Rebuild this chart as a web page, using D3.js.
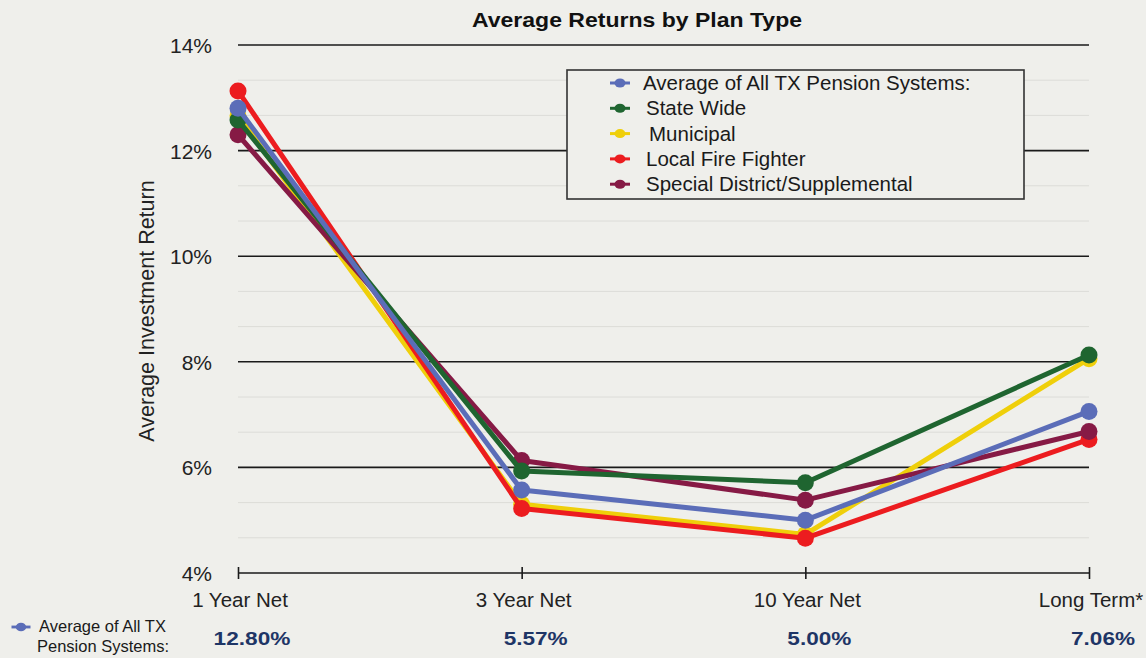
<!DOCTYPE html>
<html>
<head>
<meta charset="utf-8">
<script src="https://cdn.jsdelivr.net/npm/d3@7"></script>
<style>
  html, body { margin: 0; padding: 0; background: #efefeb; }
  svg { display: block; font-family: "Liberation Sans", Arial, Helvetica, sans-serif; }
</style>
</head>
<body>
<svg id="chart" width="1146" height="658"></svg>
<script>
// Return periods shown along the x axis
const periods = ["1 Year Net", "3 Year Net", "10 Year Net", "Long Term*"];

// Average investment return (%) per plan type
const avgAll      = [12.80, 5.57, 5.00, 7.06];
const stateWide   = [12.58, 5.93, 5.71, 8.13];
const municipal   = [12.66, 5.30, 4.73, 8.06];
const fireFighter = [13.13, 5.22, 4.66, 6.53];
const specialDist = [12.30, 6.13, 5.38, 6.68];

const seriesNames  = ["Average of All TX Pension Systems:", "State Wide", "Municipal", "Local Fire Fighter", "Special District/Supplemental"];
const seriesColors = ["#5b6db8", "#1f6530", "#efcf0a", "#ec1c1f", "#861a45"];
const seriesValues = [avgAll, stateWide, municipal, fireFighter, specialDist];

// Drawing order (back to front)
const drawOrder = [2, 3, 4, 1, 0];

const yTicks = [4, 6, 8, 10, 12, 14];
const summaryLabels = ["12.80%", "5.57%", "5.00%", "7.06%"];

const svg = d3.select("#chart");
const plotLeft = 238, plotRight = 1089, plotTop = 45, plotBottom = 573;

const x = d3.scalePoint().domain(periods).range([plotLeft, plotRight]);
const y = d3.scaleLinear().domain([4, 14]).range([plotBottom, plotTop]);

// faint minor grid (thirds between major ticks)
const minor = [];
for (let v = 4; v < 14; v += 2) { minor.push(v + 2 / 3, v + 4 / 3); }
svg.append("g").selectAll("line").data(minor).join("line")
  .attr("x1", plotLeft).attr("x2", plotRight)
  .attr("y1", d => y(d)).attr("y2", d => y(d))
  .attr("stroke", "#dcdcd8").attr("stroke-width", 1);

// major grid
svg.append("g").selectAll("line").data(yTicks.filter(d => d > 4)).join("line")
  .attr("x1", plotLeft).attr("x2", plotRight)
  .attr("y1", d => y(d)).attr("y2", d => y(d))
  .attr("stroke", "#1a1a1a").attr("stroke-width", 1.6);

// y tick labels
svg.append("g").selectAll("text").data(yTicks).join("text")
  .attr("x", 212).attr("y", d => y(d) + 8)
  .attr("text-anchor", "end").attr("font-size", 21).attr("fill", "#222")
  .text(d => d + "%");

// x axis baseline with category ticks
const xAxis = d3.axisBottom(x).tickSize(0).tickFormat("");
const gx = svg.append("g").attr("transform", `translate(0,${plotBottom})`).call(xAxis);
gx.select(".domain").attr("stroke", "#1a1a1a").attr("stroke-width", 1.6)
  .attr("d", `M${plotLeft},0H${plotRight}`);
gx.selectAll(".tick").append("line")
  .attr("y1", -6).attr("y2", 6).attr("stroke", "#1a1a1a").attr("stroke-width", 1.6);

svg.append("g").selectAll("text").data(periods).join("text")
  .attr("x", d => x(d) + 2).attr("y", 607)
  .attr("text-anchor", "middle")
  .attr("font-size", 20.5).attr("fill", "#222")
  .text(d => d);

// y axis title
svg.append("text")
  .attr("transform", "translate(154,311) rotate(-90)")
  .attr("text-anchor", "middle").attr("font-size", 21.5).attr("fill", "#222")
  .text("Average Investment Return");

// title
svg.append("text")
  .attr("x", 637).attr("y", 27).attr("text-anchor", "middle")
  .attr("font-size", 21).attr("font-weight", "bold").attr("fill", "#111")
  .attr("textLength", 330).attr("lengthAdjust", "spacingAndGlyphs")
  .text("Average Returns by Plan Type");

// series lines and points
const line = d3.line().x((d, i) => x(periods[i])).y(d => y(d));
drawOrder.forEach(si => {
  const g = svg.append("g");
  g.append("path").datum(seriesValues[si])
    .attr("d", line).attr("fill", "none")
    .attr("stroke", seriesColors[si]).attr("stroke-width", 5)
    .attr("stroke-linejoin", "round");
  g.selectAll("circle").data(seriesValues[si]).join("circle")
    .attr("cx", (d, i) => x(periods[i])).attr("cy", d => y(d))
    .attr("r", 8.5).attr("fill", seriesColors[si]);
});

// legend
const lg = svg.append("g");
lg.append("rect").attr("x", 567).attr("y", 70).attr("width", 457).attr("height", 129)
  .attr("fill", "#efefeb").attr("stroke", "#333").attr("stroke-width", 1.6);
const legendMark = (g, cx, cy, color, s) => {
  g.append("line").attr("x1", cx - 10 * s).attr("x2", cx + 10 * s).attr("y1", cy).attr("y2", cy)
    .attr("stroke", color).attr("stroke-width", 3 * s);
  g.append("ellipse").attr("cx", cx).attr("cy", cy).attr("rx", 5.5 * s).attr("ry", 4.5 * s)
    .attr("fill", color);
};
seriesNames.forEach((name, i) => {
  const cy = 83 + i * 25.3;
  legendMark(lg, 620, cy, seriesColors[i], 1);
  lg.append("text").attr("x", i === 2 ? 649 : (i === 0 ? 643 : 646)).attr("y", cy + 7)
    .attr("font-size", 20.5).attr("fill", "#1a1a1a").text(name);
});

// summary row for the overall average
const sg = svg.append("g");
legendMark(sg, 21, 627, seriesColors[0], 0.95);
sg.append("text").attr("x", 39).attr("y", 632).attr("font-size", 16.5).attr("fill", "#1a1a1a").text("Average of All TX");
sg.append("text").attr("x", 37).attr("y", 652).attr("font-size", 16.5).attr("fill", "#1a1a1a").text("Pension Systems:");
sg.selectAll("text.val").data(summaryLabels).join("text").attr("class", "val")
  .attr("x", (d, i) => x(periods[i]) + 14).attr("y", 645)
  .attr("text-anchor", "middle").attr("font-size", 19).attr("font-weight", "bold")
  .attr("textLength", d => d.length * 12.8).attr("lengthAdjust", "spacingAndGlyphs")
  .attr("fill", "#1e3566").text(d => d);
</script>
</body>
</html>
